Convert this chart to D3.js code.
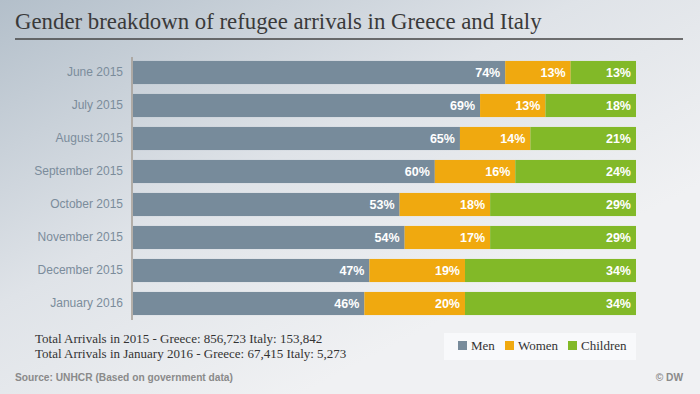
<!DOCTYPE html>
<html><head><meta charset="utf-8">
<script src="https://cdn.jsdelivr.net/npm/d3@7"></script>
<style>html,body{margin:0;padding:0;background:#eef0f2;}svg{display:block;}</style>
</head><body>
<script>
const categories = ["June 2015","July 2015","August 2015","September 2015","October 2015","November 2015","December 2015","January 2016"];
const men      = [74,69,65,60,53,54,47,46];
const women    = [13,13,14,16,18,17,19,20];
const children = [13,18,21,24,29,29,34,34];
const seriesNames = ["Men","Women","Children"];
const colors = ["#778b9b","#f0a90f","#82b928"];
const title = "Gender breakdown of refugee arrivals in Greece and Italy";
const notes = ["Total Arrivals in 2015 - Greece: 856,723 Italy: 153,842","Total Arrivals in January 2016 - Greece: 67,415 Italy: 5,273"];
const source = "Source: UNHCR (Based on government data)";
const credit = "© DW";

const W=700,H=394;
const svg=d3.select("body").append("svg").attr("width",W).attr("height",H);
const defs=svg.append("defs");
const g=defs.append("linearGradient").attr("id","bg").attr("x1","0").attr("y1","0").attr("x2","0.7").attr("y2","0.75");
g.append("stop").attr("offset","0").attr("stop-color","#b3bfca");
g.append("stop").attr("offset","0.55").attr("stop-color","#dfe3e8");
g.append("stop").attr("offset","1").attr("stop-color","#f0f1f3");
svg.append("rect").attr("width",W).attr("height",H).attr("fill","url(#bg)");

svg.append("text").attr("x",15).attr("y",29).text(title)
  .attr("font-family","Liberation Serif, serif").attr("font-size",22.8).attr("fill","#3a3a3a");
svg.append("line").attr("x1",15).attr("x2",683).attr("y1",39).attr("y2",39).attr("stroke","#444").attr("stroke-width",1.3);

const data=categories.map((c,i)=>({cat:c,Men:men[i],Women:women[i],Children:children[i]}));
const stack=d3.stack().keys(seriesNames)(data);
const x=d3.scaleLinear().domain([0,100]).range([133,636]);
const y=d3.scaleBand().domain(categories).range([56,320]).paddingInner(0.3).paddingOuter(0.15);

stack.forEach((s,si)=>{
  const grp=svg.append("g");
  grp.selectAll("rect").data(s).join("rect")
    .attr("x",d=>x(d[0])).attr("width",d=>x(d[1])-x(d[0]))
    .attr("y",d=>y(d.data.cat)).attr("height",y.bandwidth())
    .attr("fill",colors[si]);
  grp.selectAll("text").data(s).join("text")
    .attr("x",d=>x(d[1])-5).attr("y",d=>y(d.data.cat)+y.bandwidth()/2+4.5)
    .attr("text-anchor","end").attr("fill","#fff")
    .attr("font-family","Liberation Sans, Arial, sans-serif").attr("font-weight","bold").attr("font-size",12.5)
    .text(d=>(d[1]-d[0])+"%");
});

const yAxis=svg.append("g").attr("transform","translate(132,0)")
  .call(d3.axisLeft(y).tickSize(0).tickPadding(9));
yAxis.select(".domain").attr("stroke","#a59d93").attr("stroke-width",1.5).attr("d","M0,57V320");
yAxis.selectAll("text").attr("font-family","Liberation Sans, Arial, sans-serif").attr("font-size",12).attr("fill","#7b8c9b");

notes.forEach((t,i)=>svg.append("text").attr("x",35).attr("y",343+i*14.6).text(t)
  .attr("font-family","Liberation Serif, serif").attr("font-size",13).attr("fill","#333"));

svg.append("rect").attr("x",444).attr("y",333).attr("width",192).attr("height",27).attr("fill","#f8f9fb");
const legX=[458,505,568];
seriesNames.forEach((n,i)=>{
  svg.append("rect").attr("x",legX[i]).attr("y",341).attr("width",9).attr("height",9).attr("fill",colors[i]);
  svg.append("text").attr("x",legX[i]+13).attr("y",350).text(n)
    .attr("font-family","Liberation Serif, serif").attr("font-size",13).attr("fill","#333");
});

svg.append("text").attr("x",15).attr("y",381).text(source)
  .attr("font-family","Liberation Sans, Arial, sans-serif").attr("font-size",10.2).attr("font-weight","bold").attr("fill","#8a8a8a");
svg.append("text").attr("x",683).attr("y",381).attr("text-anchor","end").text(credit)
  .attr("font-family","Liberation Sans, Arial, sans-serif").attr("font-size",10.2).attr("font-weight","bold").attr("fill","#8a8a8a");
</script>
</body></html>
